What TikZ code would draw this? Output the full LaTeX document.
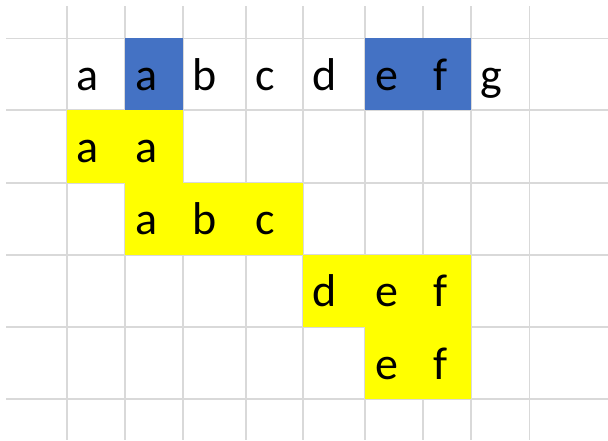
\documentclass[tikz,border=0pt]{standalone}
\usepackage{fontspec}
\setmainfont{Carlito}
\definecolor{gridgray}{HTML}{D9D9D9}
\definecolor{xlblue}{HTML}{4472C4}
\definecolor{xlyellow}{HTML}{FFFF00}
\begin{document}
\begin{tikzpicture}[x=1pt,y=-1pt,
  gridline/.style={draw=gridgray,line width=1.6pt},
  bluecell/.style={fill=xlblue},
  yelcell/.style={fill=xlyellow},
  letter/.style={anchor=base west,inner sep=0pt,font=\fontsize{46}{50}\selectfont}]
\useasboundingbox (0,0) rectangle (608,440);
% grid
\foreach \x in {66.7,125,182.7,245.7,302.7,365,423,470.7,529.3}
  \draw[gridline] (\x,6) -- (\x,440);
\foreach \y in {38.3,110,182.7,254.7,326.7,399}
  \draw[gridline] (6,\y) -- (608,\y);
% fills
\fill[bluecell] (125,38.3) rectangle (182.7,110);
\fill[bluecell] (365,38.3) rectangle (470.7,110);
\fill[yelcell] (66.7,110) rectangle (182.7,182.7);
\fill[yelcell] (125,182.7) rectangle (302.7,254.7);
\fill[yelcell] (302.7,254.7) rectangle (470.7,326.7);
\fill[yelcell] (365,326.7) rectangle (470.7,399);
% row 1
\node[letter] (r1a) at (76.7,90) {a};
\node[letter] (r1b) at (135,90) {a};
\node[letter] (r1c) at (192.7,90) {b};
\node[letter] (r1d) at (255.7,90) {c};
\node[letter] (r1e) at (312.7,90) {d};
\node[letter] (r1f) at (375,90) {e};
\node[letter] (r1g) at (433,90) {f};
\node[letter] (r1h) at (480.7,90) {g};
% row 2
\node[letter] (r2a) at (76.7,162.7) {a};
\node[letter] (r2b) at (135,162.7) {a};
% row 3
\node[letter] (r3a) at (135,234.7) {a};
\node[letter] (r3b) at (192.7,234.7) {b};
\node[letter] (r3c) at (255.7,234.7) {c};
% row 4
\node[letter] (r4a) at (312.7,306.7) {d};
\node[letter] (r4b) at (375,306.7) {e};
\node[letter] (r4c) at (433,306.7) {f};
% row 5
\node[letter] (r5a) at (375,379) {e};
\node[letter] (r5b) at (433,379) {f};
\end{tikzpicture}
\end{document}
